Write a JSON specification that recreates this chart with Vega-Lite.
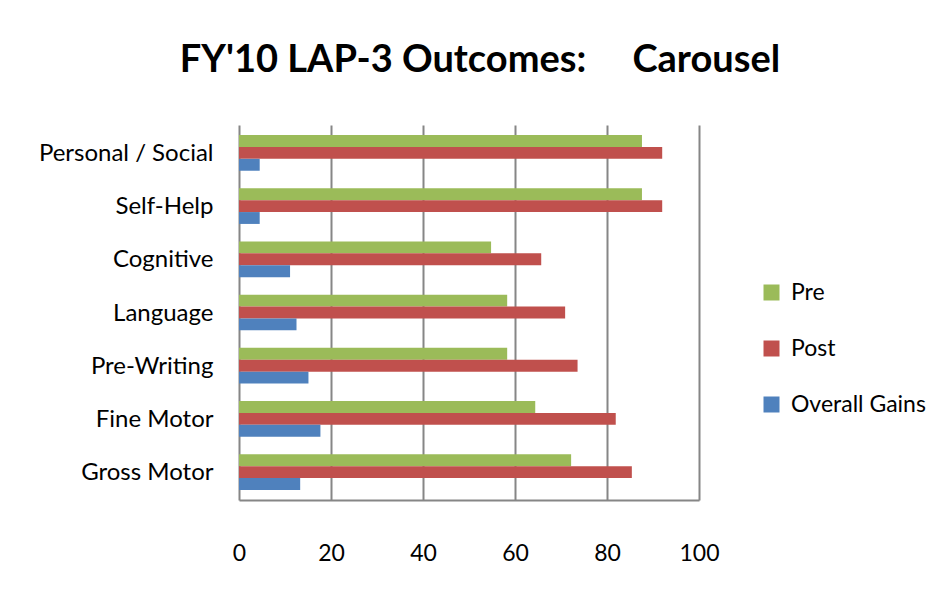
{
  "$schema": "https://vega.github.io/schema/vega-lite/v6.json",
  "width": 460,
  "height": 375,
  "autosize": {"type": "none"},
  "padding": {"left": 239, "top": 125, "right": 245, "bottom": 97},
  "background": "white",
  "title": {
    "text": "FY'10 LAP-3 Outcomes:\u00a0\u00a0\u00a0\u00a0 Carousel",
    "font": "Lato",
    "fontSize": 38,
    "fontWeight": "bold",
    "color": "#000000",
    "anchor": "middle",
    "dx": 11,
    "offset": 45
  },
  "data": {
    "values": [
      {"category": "Personal / Social", "series": "Pre", "value": 87.6},
      {"category": "Personal / Social", "series": "Post", "value": 92.0},
      {"category": "Personal / Social", "series": "Overall Gains", "value": 4.5},
      {"category": "Self-Help", "series": "Pre", "value": 87.6},
      {"category": "Self-Help", "series": "Post", "value": 92.0},
      {"category": "Self-Help", "series": "Overall Gains", "value": 4.5},
      {"category": "Cognitive", "series": "Pre", "value": 54.8},
      {"category": "Cognitive", "series": "Post", "value": 65.7},
      {"category": "Cognitive", "series": "Overall Gains", "value": 11.1},
      {"category": "Language", "series": "Pre", "value": 58.3},
      {"category": "Language", "series": "Post", "value": 70.9},
      {"category": "Language", "series": "Overall Gains", "value": 12.5},
      {"category": "Pre-Writing", "series": "Pre", "value": 58.3},
      {"category": "Pre-Writing", "series": "Post", "value": 73.6},
      {"category": "Pre-Writing", "series": "Overall Gains", "value": 15.1},
      {"category": "Fine Motor", "series": "Pre", "value": 64.4},
      {"category": "Fine Motor", "series": "Post", "value": 81.9},
      {"category": "Fine Motor", "series": "Overall Gains", "value": 17.7},
      {"category": "Gross Motor", "series": "Pre", "value": 72.2},
      {"category": "Gross Motor", "series": "Post", "value": 85.4},
      {"category": "Gross Motor", "series": "Overall Gains", "value": 13.3}
    ]
  },
  "mark": {"type": "bar"},
  "encoding": {
    "y": {
      "field": "category",
      "type": "nominal",
      "sort": ["Personal / Social", "Self-Help", "Cognitive", "Language", "Pre-Writing", "Fine Motor", "Gross Motor"],
      "scale": {"paddingInner": 0.33, "paddingOuter": 0.19},
      "axis": {
        "title": null,
        "domain": false,
        "ticks": false,
        "labelFont": "Lato",
        "labelFontSize": 24,
        "labelColor": "#000000",
        "labelPadding": 26,
        "labelOffset": 1
      }
    },
    "yOffset": {
      "field": "series",
      "type": "nominal",
      "sort": ["Pre", "Post", "Overall Gains"],
      "scale": {"paddingInner": 0, "paddingOuter": 0}
    },
    "x": {
      "field": "value",
      "type": "quantitative",
      "scale": {"domain": [0, 100], "nice": false},
      "axis": {
        "title": null,
        "values": [0, 20, 40, 60, 80, 100],
        "grid": true,
        "gridColor": "#868686",
        "gridWidth": 2,
        "gridOpacity": 1,
        "domain": true,
        "domainColor": "#868686",
        "domainWidth": 2,
        "ticks": false,
        "labelFlush": false,
        "labelFont": "Lato",
        "labelFontSize": 23,
        "labelColor": "#000000",
        "labelPadding": 42
      }
    },
    "color": {
      "field": "series",
      "type": "nominal",
      "sort": ["Pre", "Post", "Overall Gains"],
      "scale": {
        "domain": ["Pre", "Post", "Overall Gains"],
        "range": ["#9BBB59", "#C0504D", "#4F81BD"]
      },
      "legend": {
        "title": null,
        "orient": "none",
        "legendX": 521,
        "legendY": 156,
        "symbolType": "square",
        "symbolSize": 256,
        "symbolStrokeWidth": 0,
        "labelFont": "Lato",
        "labelFontSize": 23,
        "labelColor": "#000000",
        "labelOffset": 8,
        "rowPadding": 32
      }
    }
  },
  "config": {
    "view": {"stroke": null}
  }
}
